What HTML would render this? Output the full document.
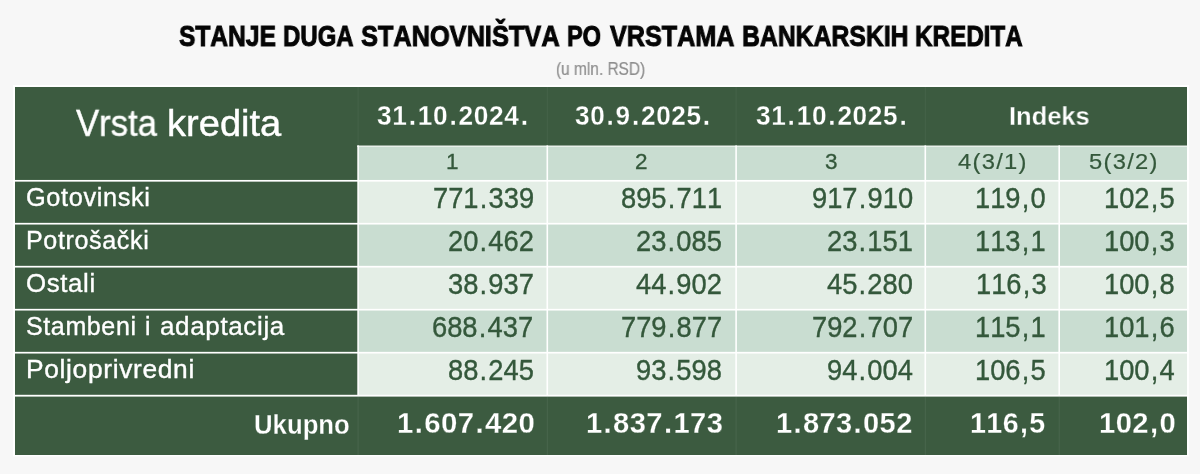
<!DOCTYPE html>
<html><head><meta charset="utf-8"><title>Stanje duga stanovništva</title>
<style>
html,body{margin:0;padding:0}
body{width:1200px;height:474px;background:#f7f7f7;position:relative;overflow:hidden;font-family:"Liberation Sans",sans-serif}
svg{position:absolute;left:0;top:0}
.t{position:absolute;white-space:nowrap;line-height:1;transform-origin:0 0;font-kerning:none;will-change:transform}
.t i{font-style:normal}
.r{-webkit-text-stroke:0.35px currentColor}
.bd{font-weight:700;-webkit-text-stroke:0.25px #3c5b40}
</style></head><body>

<svg width="1200" height="474" viewBox="0 0 1200 474"><rect x="13" y="85" width="1176" height="371.5" fill="#fff"/><rect x="15" y="87" width="1172" height="368" fill="#3c5b40"/><rect x="358.1" y="146.2" width="828.9" height="249.5" fill="#c9ddd1"/><rect x="358.1" y="180.8" width="828.9" height="43" fill="#e4eee6"/><rect x="358.1" y="266.7" width="828.9" height="43" fill="#e4eee6"/><rect x="358.1" y="352.7" width="828.9" height="43" fill="#e4eee6"/><rect x="357.200" y="145.5" width="829.8" height="1.5" fill="#e8f0ea"/><rect x="15" y="179.950" width="1172" height="1.7" fill="#fff"/><rect x="15" y="222.85" width="1172" height="1.7" fill="#fff"/><rect x="15" y="265.849" width="1172" height="1.7" fill="#fff"/><rect x="15" y="308.849" width="1172" height="1.7" fill="#fff"/><rect x="15" y="351.849" width="1172" height="1.7" fill="#fff"/><rect x="15" y="394.8" width="1172" height="1.8" fill="#fff"/><rect x="357.3" y="145.4" width="1.6" height="250.299" fill="#fff"/><rect x="357.6" y="396.6" width="1" height="58.4" fill="#fff" opacity="0.07"/><rect x="357.6" y="87" width="1" height="58.4" fill="#fff" opacity="0.05"/><rect x="546.5" y="145.4" width="1.6" height="250.299" fill="#fff"/><rect x="546.8" y="396.6" width="1" height="58.4" fill="#fff" opacity="0.07"/><rect x="546.8" y="87" width="1" height="58.4" fill="#fff" opacity="0.05"/><rect x="735.300" y="145.4" width="1.6" height="250.299" fill="#fff"/><rect x="735.6" y="396.6" width="1" height="58.4" fill="#fff" opacity="0.07"/><rect x="735.6" y="87" width="1" height="58.4" fill="#fff" opacity="0.05"/><rect x="924.5" y="145.4" width="1.6" height="250.299" fill="#fff"/><rect x="924.8" y="396.6" width="1" height="58.4" fill="#fff" opacity="0.07"/><rect x="924.8" y="87" width="1" height="58.4" fill="#fff" opacity="0.05"/><rect x="1058.4" y="145.4" width="1.6" height="250.299" fill="#fff"/><rect x="1058.7" y="396.6" width="1" height="58.4" fill="#fff" opacity="0.07"/></svg>
<div class="t bd" style="left:178.58px;top:20.27px;font-size:30.4px;color:#050505;-webkit-text-stroke:1.0px currentColor;transform:scaleX(0.8083);">STANJE</div>
<div class="t bd" style="left:282.73px;top:20.27px;font-size:30.4px;color:#050505;-webkit-text-stroke:1.0px currentColor;transform:scaleX(0.7889);">DUGA</div>
<div class="t bd" style="left:360.58px;top:20.27px;font-size:30.4px;color:#050505;-webkit-text-stroke:1.0px currentColor;transform:scaleX(0.8341);">STANOVNIŠTVA</div>
<div class="t bd" style="left:566.77px;top:20.27px;font-size:30.4px;color:#050505;-webkit-text-stroke:1.0px currentColor;transform:scaleX(0.7733);">PO</div>
<div class="t bd" style="left:609.50px;top:20.27px;font-size:30.4px;color:#050505;-webkit-text-stroke:1.0px currentColor;transform:scaleX(0.8285);">VRSTAMA</div>
<div class="t bd" style="left:741.66px;top:20.27px;font-size:30.4px;color:#050505;-webkit-text-stroke:1.0px currentColor;transform:scaleX(0.8150);">BANKARSKIH</div>
<div class="t bd" style="left:914.70px;top:20.27px;font-size:30.4px;color:#050505;-webkit-text-stroke:1.0px currentColor;transform:scaleX(0.7980);">KREDITA</div>
<div class="t r" style="left:555.69px;top:60.70px;font-size:17.6px;color:#8e8e8e;-webkit-text-stroke:0.2px currentColor;transform:scaleX(0.8773);">(u mln. RSD)</div>
<div class="t r" style="left:76.00px;top:103.65px;font-size:35px;color:#fff;-webkit-text-stroke:0.4px currentColor;transform:scale(0.9914,1.065);">Vrsta</div>
<div class="t r" style="left:166.96px;top:103.65px;font-size:35px;color:#fff;-webkit-text-stroke:0.4px currentColor;transform:scale(1.0878,1.065);">kredita</div>
<div class="t bd" style="left:377.31px;top:101.50px;font-size:25.7px;color:#fff;letter-spacing:0.6px;transform:scale(1.0220,1.08);">31<i style="margin:0 1.2px">.</i>10<i style="margin:0 1.2px">.</i>2024<i style="margin:0 1.2px">.</i></div>
<div class="t bd" style="left:575.29px;top:101.50px;font-size:25.7px;color:#fff;letter-spacing:0.6px;transform:scale(1.0173,1.08);">30<i style="margin:0 1.2px">.</i>9<i style="margin:0 1.2px">.</i>2025<i style="margin:0 1.2px">.</i></div>
<div class="t bd" style="left:756.49px;top:101.50px;font-size:25.7px;color:#fff;letter-spacing:0.6px;transform:scale(1.0202,1.08);">31<i style="margin:0 1.2px">.</i>10<i style="margin:0 1.2px">.</i>2025<i style="margin:0 1.2px">.</i></div>
<div class="t bd" style="left:1009.00px;top:102.68px;font-size:25.6px;color:#fff;transform:scale(0.9954,1.03);">Indeks</div>
<div class="t r" style="left:445.54px;top:151.35px;font-size:22.5px;color:#34583b;">1</div>
<div class="t r" style="left:635.24px;top:151.35px;font-size:22.5px;color:#34583b;">2</div>
<div class="t r" style="left:824.74px;top:151.35px;font-size:22.5px;color:#34583b;">3</div>
<div class="t r" style="left:957.53px;top:151.35px;font-size:22.5px;color:#34583b;letter-spacing:1.2px;-webkit-text-stroke:0.2px currentColor;transform:scaleX(1.0569);">4(3/1)</div>
<div class="t r" style="left:1088.83px;top:151.35px;font-size:22.5px;color:#34583b;letter-spacing:1.2px;-webkit-text-stroke:0.2px currentColor;transform:scaleX(1.0561);">5(3/2)</div>
<div class="t r" style="left:26.23px;top:183.60px;font-size:24.5px;color:#fff;letter-spacing:0.6px;transform:scale(1.0348,1.08);">Gotovinski</div>
<div class="t r" style="left:432.85px;top:182.35px;font-size:27.3px;color:#34583b;transform:scale(1.0000,1.11);">771<i style="margin:0 1.2px">.</i>339</div>
<div class="t r" style="left:621.02px;top:182.35px;font-size:27.3px;color:#34583b;transform:scale(1.0000,1.11);">895<i style="margin:0 1.2px">.</i>711</div>
<div class="t r" style="left:812.04px;top:182.35px;font-size:27.3px;color:#34583b;transform:scale(1.0000,1.11);">917<i style="margin:0 1.2px">.</i>910</div>
<div class="t r" style="left:974.97px;top:182.35px;font-size:27.3px;color:#34583b;transform:scale(1.0000,1.11);">119<i style="margin:0 1.2px">,</i>0</div>
<div class="t r" style="left:1104.01px;top:182.35px;font-size:27.3px;color:#34583b;transform:scale(1.0000,1.11);">102<i style="margin:0 1.2px">,</i>5</div>
<div class="t r" style="left:25.90px;top:226.60px;font-size:24.5px;color:#fff;letter-spacing:0.6px;transform:scale(1.0247,1.08);">Potrošački</div>
<div class="t r" style="left:447.87px;top:225.35px;font-size:27.3px;color:#34583b;transform:scale(1.0000,1.11);">20<i style="margin:0 1.2px">.</i>462</div>
<div class="t r" style="left:636.28px;top:225.35px;font-size:27.3px;color:#34583b;transform:scale(1.0000,1.11);">23<i style="margin:0 1.2px">.</i>085</div>
<div class="t r" style="left:826.75px;top:225.35px;font-size:27.3px;color:#34583b;transform:scale(1.0000,1.11);">23<i style="margin:0 1.2px">.</i>151</div>
<div class="t r" style="left:975.21px;top:225.35px;font-size:27.3px;color:#34583b;transform:scale(1.0000,1.11);">113<i style="margin:0 1.2px">,</i>1</div>
<div class="t r" style="left:1104.19px;top:225.35px;font-size:27.3px;color:#34583b;transform:scale(1.0000,1.11);">100<i style="margin:0 1.2px">,</i>3</div>
<div class="t r" style="left:26.32px;top:269.60px;font-size:24.5px;color:#fff;letter-spacing:0.6px;transform:scale(1.0542,1.08);">Ostali</div>
<div class="t r" style="left:447.95px;top:268.35px;font-size:27.3px;color:#34583b;transform:scale(1.0000,1.11);">38<i style="margin:0 1.2px">.</i>937</div>
<div class="t r" style="left:636.43px;top:268.35px;font-size:27.3px;color:#34583b;transform:scale(1.0000,1.11);">44<i style="margin:0 1.2px">.</i>902</div>
<div class="t r" style="left:826.63px;top:268.35px;font-size:27.3px;color:#34583b;transform:scale(1.0000,1.11);">45<i style="margin:0 1.2px">.</i>280</div>
<div class="t r" style="left:975.80px;top:268.35px;font-size:27.3px;color:#34583b;transform:scale(1.0000,1.11);">116<i style="margin:0 1.2px">,</i>3</div>
<div class="t r" style="left:1104.26px;top:268.35px;font-size:27.3px;color:#34583b;transform:scale(1.0000,1.11);">100<i style="margin:0 1.2px">,</i>8</div>
<div class="t r" style="left:25.72px;top:312.60px;font-size:24.5px;color:#fff;letter-spacing:0.6px;transform:scale(1.0212,1.08);">Stambeni</div>
<div class="t r" style="left:145.37px;top:312.60px;font-size:24.5px;color:#fff;transform:scale(1.0000,1.08);">i</div>
<div class="t r" style="left:160.40px;top:312.60px;font-size:24.5px;color:#fff;letter-spacing:0.6px;transform:scale(1.0613,1.08);">adaptacija</div>
<div class="t r" style="left:432.32px;top:311.35px;font-size:27.3px;color:#34583b;transform:scale(1.0000,1.11);">688<i style="margin:0 1.2px">.</i>437</div>
<div class="t r" style="left:621.03px;top:311.35px;font-size:27.3px;color:#34583b;transform:scale(1.0000,1.11);">779<i style="margin:0 1.2px">.</i>877</div>
<div class="t r" style="left:812.22px;top:311.35px;font-size:27.3px;color:#34583b;transform:scale(1.0000,1.11);">792<i style="margin:0 1.2px">.</i>707</div>
<div class="t r" style="left:975.21px;top:311.35px;font-size:27.3px;color:#34583b;transform:scale(1.0000,1.11);">115<i style="margin:0 1.2px">,</i>1</div>
<div class="t r" style="left:1104.12px;top:311.35px;font-size:27.3px;color:#34583b;transform:scale(1.0000,1.11);">101<i style="margin:0 1.2px">,</i>6</div>
<div class="t r" style="left:26.24px;top:355.60px;font-size:24.5px;color:#fff;letter-spacing:0.6px;transform:scale(1.0770,1.08);">Poljoprivredni</div>
<div class="t r" style="left:447.71px;top:354.35px;font-size:27.3px;color:#34583b;transform:scale(1.0000,1.11);">88<i style="margin:0 1.2px">.</i>245</div>
<div class="t r" style="left:636.38px;top:354.35px;font-size:27.3px;color:#34583b;transform:scale(1.0000,1.11);">93<i style="margin:0 1.2px">.</i>598</div>
<div class="t r" style="left:826.51px;top:354.35px;font-size:27.3px;color:#34583b;transform:scale(1.0000,1.11);">94<i style="margin:0 1.2px">.</i>004</div>
<div class="t r" style="left:975.01px;top:354.35px;font-size:27.3px;color:#34583b;transform:scale(1.0000,1.11);">106<i style="margin:0 1.2px">,</i>5</div>
<div class="t r" style="left:1104.36px;top:354.35px;font-size:27.3px;color:#34583b;transform:scale(1.0000,1.11);">100<i style="margin:0 1.2px">,</i>4</div>
<div class="t bd" style="left:253.80px;top:411.70px;font-size:25.5px;color:#fff;transform:scale(1.0097,1.07);">Ukupno</div>
<div class="t bd" style="left:397.40px;top:409.08px;font-size:28px;color:#fff;letter-spacing:0.4px;transform:scale(1.0498,1.06);">1<i style="margin:0 0.9px">.</i>607<i style="margin:0 0.9px">.</i>420</div>
<div class="t bd" style="left:586.00px;top:409.08px;font-size:28px;color:#fff;letter-spacing:0.4px;transform:scale(1.0422,1.06);">1<i style="margin:0 0.9px">.</i>837<i style="margin:0 0.9px">.</i>173</div>
<div class="t bd" style="left:776.00px;top:409.08px;font-size:28px;color:#fff;letter-spacing:0.4px;transform:scale(1.0377,1.06);">1<i style="margin:0 0.9px">.</i>873<i style="margin:0 0.9px">.</i>052</div>
<div class="t bd" style="left:970.00px;top:409.08px;font-size:28px;color:#fff;letter-spacing:0.4px;transform:scale(1.0233,1.06);">116<i style="margin:0 0.9px">,</i>5</div>
<div class="t bd" style="left:1098.60px;top:409.08px;font-size:28px;color:#fff;letter-spacing:0.4px;transform:scale(1.0436,1.06);">102<i style="margin:0 0.9px">,</i>0</div>
</body></html>
